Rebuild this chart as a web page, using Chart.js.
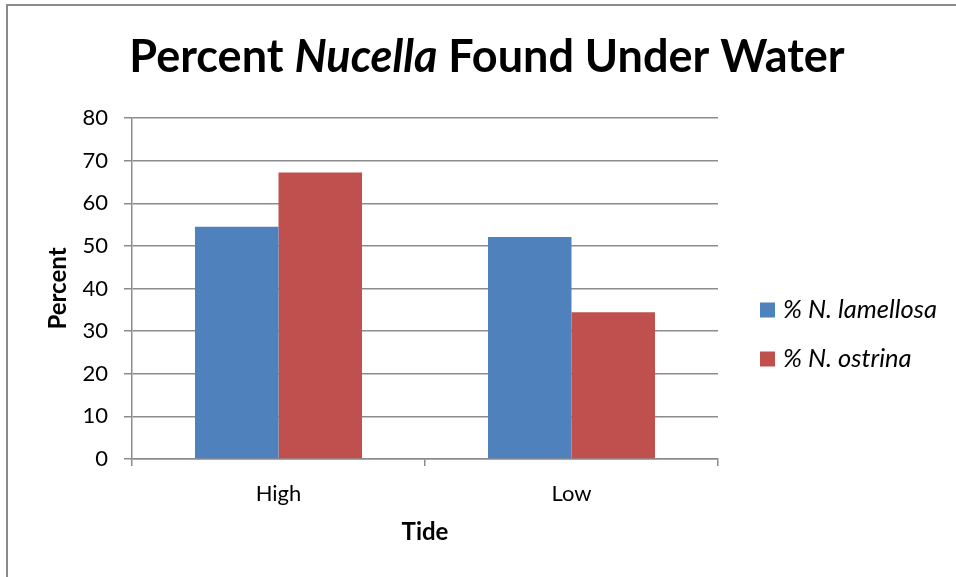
<!DOCTYPE html>
<html>
<head>
<meta charset="utf-8">
<script src="https://cdn.jsdelivr.net/npm/chart.js@4/dist/chart.umd.min.js"></script>
<style>
  html, body { margin: 0; padding: 0; background: #fff; }
  #wrap { width: 956px; height: 577px; position: relative; }
</style>
</head>
<body>
<div id="wrap"><canvas id="c" width="956" height="577"></canvas></div>
<script>
const categories = ["High", "Low"];
const seriesNames = ["% N. lamellosa", "% N. ostrina"];
const lamellosa = [54.5, 52.1];
const ostrina = [67.2, 34.4];
const yTicks = [0, 10, 20, 30, 40, 50, 60, 70, 80];
const titleParts = [["Percent ", false], ["Nucella", true], [" Found Under Water", false]];
const colors = ["#4F81BD", "#C0504D"];
const FONT = "Lato, 'Open Sans', sans-serif";
const GRID = "#8c8c8c";

const decor = {
  id: "decor",
  beforeDraw(chart) {
    const ctx = chart.ctx;
    ctx.save();
    ctx.strokeStyle = "#8a8a8a";
    ctx.lineWidth = 2;
    ctx.beginPath();
    ctx.moveTo(7, 577); ctx.lineTo(7, 5); ctx.lineTo(956, 5);
    ctx.stroke();
    ctx.restore();
  },
  afterDraw(chart) {
    const ctx = chart.ctx;
    ctx.save();
    let size = 46;
    const widthAt = (s) => {
      let w = 0;
      titleParts.forEach(([t, it]) => {
        ctx.font = (it ? "italic " : "") + "bold " + s + "px " + FONT;
        w += ctx.measureText(t).width;
      });
      return w;
    };
    while (widthAt(size) > 716 && size > 20) size -= 0.5;
    const total = widthAt(size);
    let x = 487 - total / 2;
    ctx.fillStyle = "#000";
    ctx.textBaseline = "alphabetic";
    ctx.textAlign = "left";
    titleParts.forEach(([t, it]) => {
      ctx.font = (it ? "italic " : "") + "bold " + size + "px " + FONT;
      ctx.fillText(t, x, 72);
      x += ctx.measureText(t).width;
    });
    let ls = 26;
    ctx.font = "italic " + ls + "px " + FONT;
    while (ctx.measureText(seriesNames[0]).width > 155 && ls > 12) {
      ls -= 0.5;
      ctx.font = "italic " + ls + "px " + FONT;
    }
    const rows = [310, 359];
    chart.data.datasets.forEach((ds, i) => {
      ctx.fillStyle = ds.backgroundColor;
      ctx.fillRect(760, rows[i] - 7.5, 15, 15);
      ctx.fillStyle = "#000";
      ctx.font = "italic " + ls + "px " + FONT;
      ctx.textBaseline = "middle";
      ctx.fillText(ds.label, 783, rows[i]);
    });
    ctx.restore();
  }
};

new Chart(document.getElementById("c"), {
  type: "bar",
  data: {
    labels: categories,
    datasets: [
      { label: seriesNames[0], data: lamellosa, backgroundColor: colors[0] },
      { label: seriesNames[1], data: ostrina, backgroundColor: colors[1] }
    ]
  },
  options: {
    responsive: false,
    animation: false,
    devicePixelRatio: 1,
    layout: { padding: { left: 0, top: 118, right: 238, bottom: 0 } },
    plugins: { legend: { display: false }, title: { display: false }, tooltip: { enabled: false } },
    datasets: { bar: { categoryPercentage: 0.57, barPercentage: 1.0 } },
    scales: {
      x: {
        offset: true,
        grid: { display: true, offset: true, drawOnChartArea: false, drawTicks: true, tickLength: 7, color: GRID, lineWidth: 1.5 },
        border: { display: true, color: GRID, width: 1.5 },
        ticks: { color: "#000", font: { family: FONT, size: 22 }, padding: 15 },
        title: { display: true, text: "Tide", color: "#000", font: { family: FONT, size: 24, weight: "bold" }, padding: { top: 0, bottom: 30 } },
        afterFit(scale) { scale.height = 118; }
      },
      y: {
        min: 0, max: 80,
        afterBuildTicks(scale) { scale.ticks = yTicks.map(v => ({ value: v })); },
        grid: { color: GRID, lineWidth: 1.5, drawTicks: true, tickLength: 8 },
        border: { display: true, color: GRID, width: 1.5 },
        ticks: { color: "#000", font: { family: FONT, size: 22 }, padding: 16 },
        title: { display: true, text: "Percent", color: "#000", font: { family: FONT, size: 24, weight: "bold" }, padding: { top: 44, bottom: 0 } },
        afterFit(scale) { scale.width = 132; }
      }
    }
  },
  plugins: [decor]
});
</script>
</body>
</html>
